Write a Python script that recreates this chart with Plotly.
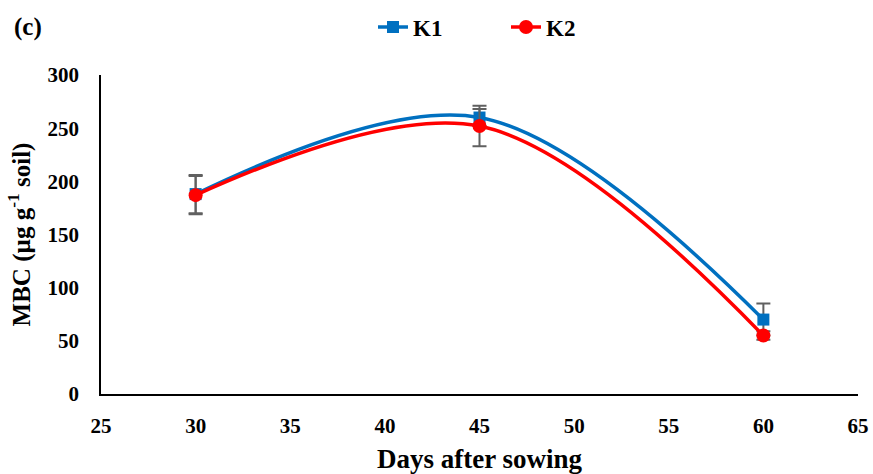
import plotly.graph_objects as go

days = [30, 45, 60]
k1 = [188, 260, 70]
k1_err = [18, 8, 15]
k2 = [187, 252, 55]
k2_err = [18, 19, 4]
x_ticks = [25, 30, 35, 40, 45, 50, 55, 60, 65]
y_ticks = [0, 50, 100, 150, 200, 250, 300]

font = "Liberation Serif"
fig = go.Figure()
fig.add_trace(go.Scatter(
    x=days, y=k1, name="<b>K1</b>", mode="lines+markers",
    line=dict(color="#0070C0", width=3.5, shape="spline", smoothing=1),
    marker=dict(symbol="square", size=12, color="#0070C0"),
    error_y=dict(type="data", array=k1_err, color="#606060", thickness=2, width=7),
))
fig.add_trace(go.Scatter(
    x=days, y=k2, name="<b>K2</b>", mode="lines+markers",
    line=dict(color="#FF0000", width=3.5, shape="spline", smoothing=1),
    marker=dict(symbol="circle", size=14, color="#FF0000"),
    error_y=dict(type="data", array=k2_err, color="#606060", thickness=2, width=7),
))
fig.update_layout(
    width=873, height=474,
    margin=dict(l=101, r=15, t=75, b=80, autoexpand=False),
    paper_bgcolor="white", plot_bgcolor="white",
    font=dict(family=font, color="black", size=21),
    showlegend=True,
    legend=dict(orientation="h", x=(373 - 101) / 757, xanchor="left", xref="paper",
                y=1 - 27 / 474, yref="container", yanchor="middle",
                font=dict(size=23, family=font), entrywidth=88, entrywidthmode="pixels",
                tracegroupgap=0),
    xaxis=dict(range=[25, 65], tickvals=x_ticks, ticktext=[f"<b>{v}</b>" for v in x_ticks],
               showline=True, linecolor="black", linewidth=1.5, showgrid=False, zeroline=False,
               ticks="outside", ticklen=12, tickcolor="rgba(0,0,0,0)",
               tickfont=dict(size=21, family=font),
               title=dict(text="<b>Days after sowing</b>", font=dict(size=27, family=font), standoff=13)),
    yaxis=dict(range=[0, 300], tickvals=y_ticks, ticktext=[f"<b>{v}</b>" for v in y_ticks],
               showline=True, linecolor="black", linewidth=1.5, showgrid=False, zeroline=False,
               ticks="outside", ticklen=16, tickcolor="rgba(0,0,0,0)",
               tickfont=dict(size=21, family=font),
               title=dict(text="<b>MBC (µg g<sup>-1</sup> soil)</b>", font=dict(size=25, family=font), standoff=10)),
    annotations=[dict(text="<b>(c)</b>", x=(12 - 101) / 757, y=1 + (75 - 27) / 319,
                      xref="paper", yref="paper", xanchor="left", yanchor="middle",
                      showarrow=False, font=dict(size=25, family=font))],
)
fig.write_html("out.html")
